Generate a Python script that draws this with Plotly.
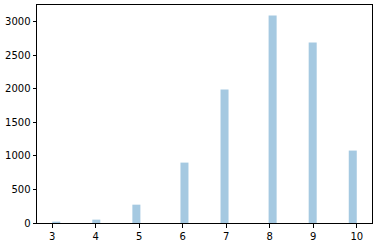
import numpy as np
import plotly.graph_objects as go

scores = [3, 4, 5, 6, 7, 8, 9, 10]
counts = [20, 50, 273, 899, 1987, 3090, 2687, 1078]
x_ticks = [3, 4, 5, 6, 7, 8, 9, 10]
y_ticks = [0, 500, 1000, 1500, 2000, 2500, 3000]

n_bins = 38
lo, hi = min(scores), max(scores)
w = (hi - lo) / n_bins
idx = np.minimum(np.floor((np.array(scores) - lo) / w), n_bins - 1)
centers = lo + idx * w + w / 2

fig = go.Figure(go.Bar(
    x=centers, y=counts, width=w,
    marker=dict(color="rgba(31,119,180,0.4)", line=dict(width=0)),
))

axis_common = dict(
    showline=True, linecolor="black", linewidth=1, mirror=True,
    ticks="outside", ticklen=3.5, tickcolor="black", tickwidth=1,
    showgrid=False, zeroline=False,
    tickfont=dict(family="DejaVu Sans", size=10, color="black"),
)
span = hi - lo
fig.update_xaxes(range=[lo - 0.05 * span, hi + 0.05 * span],
                 tickvals=x_ticks, **axis_common)
fig.update_yaxes(range=[0, max(counts) * 1.05], tickvals=y_ticks, **axis_common)

fig.update_layout(
    width=377, height=248,
    margin=dict(l=37, r=5, t=5, b=25),
    plot_bgcolor="white", paper_bgcolor="white",
    showlegend=False,
)
fig.write_html("out.html")
